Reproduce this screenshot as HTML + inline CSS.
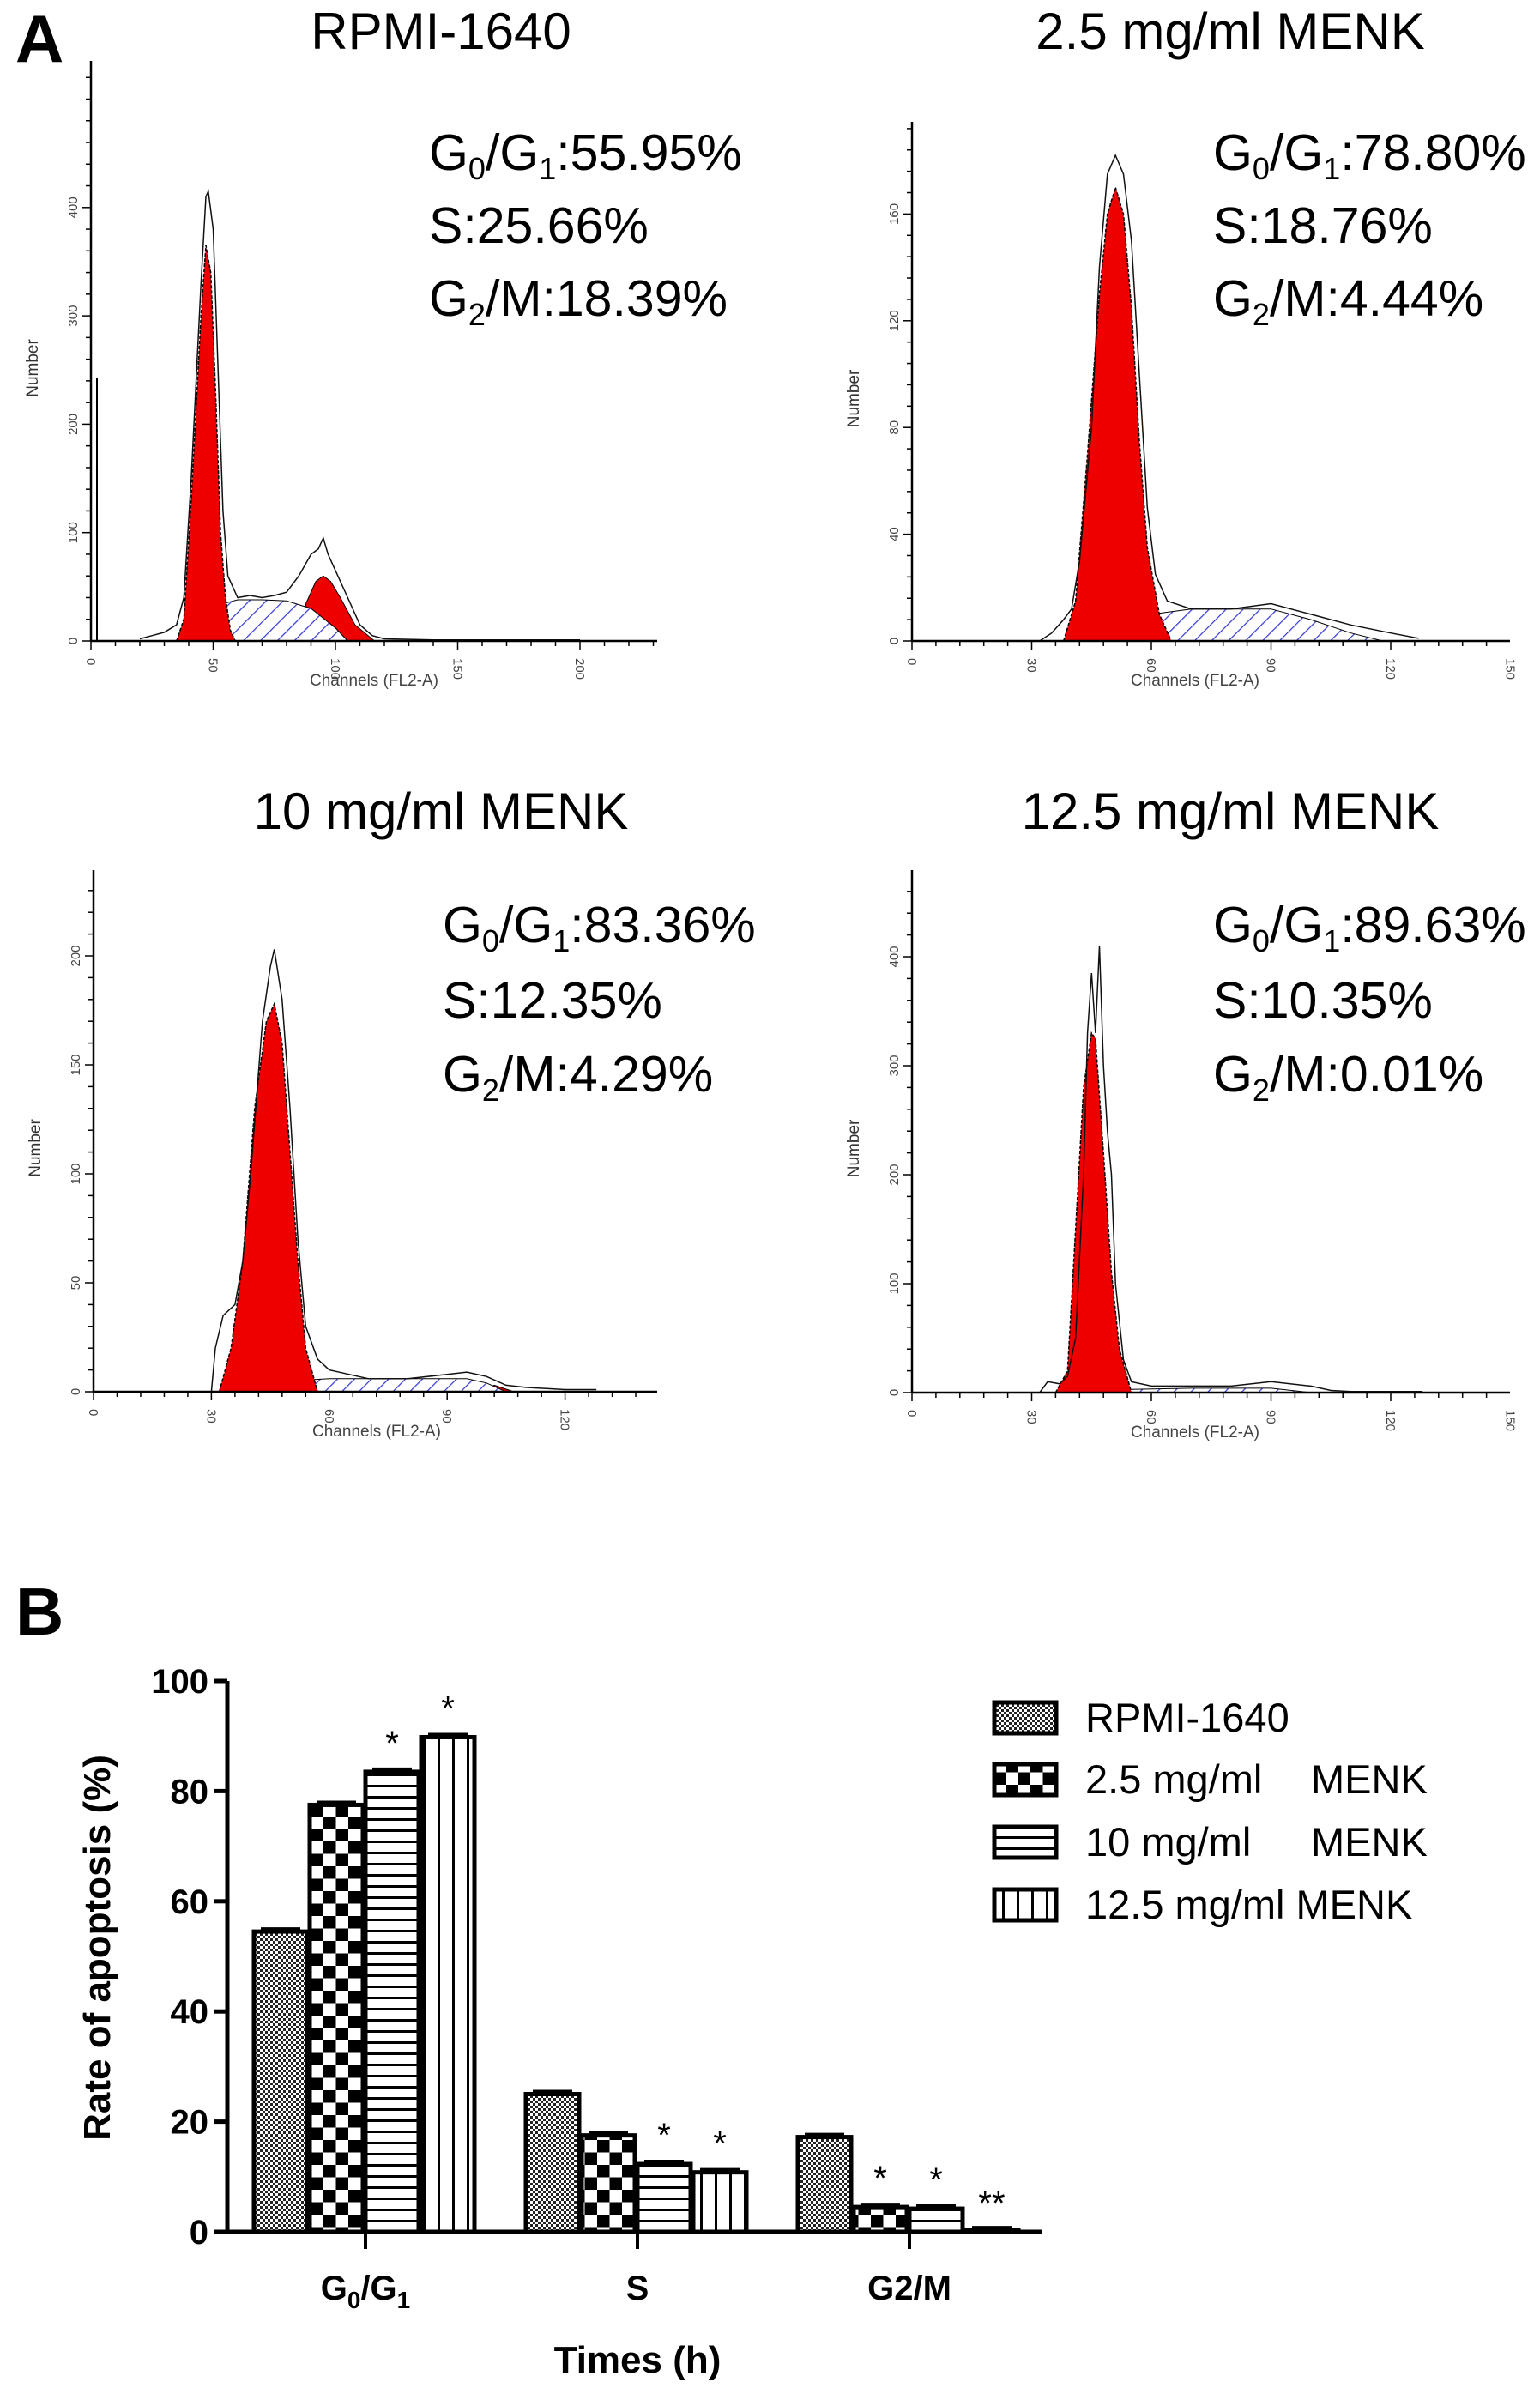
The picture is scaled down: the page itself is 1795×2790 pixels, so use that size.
<!DOCTYPE html>
<html><head><meta charset="utf-8"><style>
html,body{margin:0;padding:0;background:#fff}
svg{display:block}
text{font-family:"Liberation Sans",sans-serif}
</style></head><body>
<svg id="fig" width="1795" height="2790" viewBox="0 0 1795 2790" xmlns="http://www.w3.org/2000/svg">
<defs>
<pattern id="hatchS" patternUnits="userSpaceOnUse" width="14" height="14" patternTransform="rotate(45)"><rect width="14" height="14" fill="#fff"/><line x1="0" y1="0" x2="0" y2="14" stroke="#3a3ad8" stroke-width="2.5"/></pattern>
<pattern id="pFine" patternUnits="userSpaceOnUse" width="6" height="6"><rect width="6" height="6" fill="#fff"/><rect width="3" height="3" fill="#222"/><rect x="3" y="3" width="3" height="3" fill="#222"/></pattern>
<pattern id="pChk" patternUnits="userSpaceOnUse" width="29" height="29" x="0" y="0"><rect width="29" height="29" fill="#fff"/><rect width="14.5" height="14.5" fill="#000"/><rect x="14.5" y="14.5" width="14.5" height="14.5" fill="#000"/></pattern>
<pattern id="pHor" patternUnits="userSpaceOnUse" width="10" height="13"><rect width="10" height="13" fill="#fff"/><rect y="0" width="10" height="3" fill="#000"/></pattern>
<pattern id="pVer" patternUnits="userSpaceOnUse" width="17" height="10"><rect width="17" height="10" fill="#fff"/><rect x="0" width="3" height="10" fill="#000"/></pattern>
</defs>

<text x="18" y="72" font-size="78" font-weight="bold">A</text>
<text x="18" y="1905" font-size="78" font-weight="bold">B</text>

<text x="514" y="57" font-size="60" text-anchor="middle">RPMI-1640</text>
<text x="1434" y="57" font-size="60" text-anchor="middle">2.5 mg/ml MENK</text>
<text x="514" y="966" font-size="60" text-anchor="middle">10 mg/ml MENK</text>
<text x="1434" y="966" font-size="60" text-anchor="middle">12.5 mg/ml MENK</text>

<g font-size="59">
<text x="500" y="198">G<tspan font-size="36" dy="11">0</tspan><tspan dy="-11">/G</tspan><tspan font-size="36" dy="11">1</tspan><tspan dy="-11">:55.95%</tspan></text>
<text x="500" y="283">S:25.66%</text>
<text x="500" y="368">G<tspan font-size="36" dy="11">2</tspan><tspan dy="-11">/M:18.39%</tspan></text>
</g>
<g font-size="59">
<text x="1414" y="198">G<tspan font-size="36" dy="11">0</tspan><tspan dy="-11">/G</tspan><tspan font-size="36" dy="11">1</tspan><tspan dy="-11">:78.80%</tspan></text>
<text x="1414" y="283">S:18.76%</text>
<text x="1414" y="368">G<tspan font-size="36" dy="11">2</tspan><tspan dy="-11">/M:4.44%</tspan></text>
</g>
<g font-size="59">
<text x="516" y="1098">G<tspan font-size="36" dy="11">0</tspan><tspan dy="-11">/G</tspan><tspan font-size="36" dy="11">1</tspan><tspan dy="-11">:83.36%</tspan></text>
<text x="516" y="1186">S:12.35%</text>
<text x="516" y="1272">G<tspan font-size="36" dy="11">2</tspan><tspan dy="-11">/M:4.29%</tspan></text>
</g>
<g font-size="59">
<text x="1414" y="1098">G<tspan font-size="36" dy="11">0</tspan><tspan dy="-11">/G</tspan><tspan font-size="36" dy="11">1</tspan><tspan dy="-11">:89.63%</tspan></text>
<text x="1414" y="1186">S:10.35%</text>
<text x="1414" y="1272">G<tspan font-size="36" dy="11">2</tspan><tspan dy="-11">/M:0.01%</tspan></text>
</g>

<g id="hist"></g>
<g id="bars"></g>

<text transform="translate(128,2270) rotate(-90)" font-size="44" font-weight="bold" text-anchor="middle">Rate of apoptosis (%)</text>
<text x="426" y="2680" font-size="40" font-weight="bold" text-anchor="middle">G<tspan font-size="28" dy="10">0</tspan><tspan dy="-10">/G</tspan><tspan font-size="28" dy="10">1</tspan></text>
<text x="743" y="2680" font-size="40" font-weight="bold" text-anchor="middle">S</text>
<text x="1060" y="2680" font-size="40" font-weight="bold" text-anchor="middle">G2/M</text>
<text x="743" y="2765" font-size="44" font-weight="bold" text-anchor="middle">Times (h)</text>

<g font-size="47">
<rect x="1147" y="1963" width="72" height="36" fill="url(#pFine)" stroke="#000" stroke-width="5" transform="translate(12,21)"/>
<text x="1265" y="2018">RPMI-1640</text>
<rect x="1147" y="2035" width="72" height="36" fill="url(#pChk)" stroke="#000" stroke-width="5" transform="translate(12,21)"/>
<text x="1265" y="2090">2.5 mg/ml</text><text x="1528" y="2090">MENK</text>
<rect x="1147" y="2108" width="72" height="36" fill="url(#pHor)" stroke="#000" stroke-width="5" transform="translate(12,21)"/>
<text x="1265" y="2163">10 mg/ml</text><text x="1528" y="2163">MENK</text>
<rect x="1147" y="2181" width="72" height="36" fill="url(#pVer)" stroke="#000" stroke-width="5" transform="translate(12,21)"/>
<text x="1265" y="2236">12.5 mg/ml MENK</text>
</g>
</svg>
<script>
const p1Outline=[[20,2],[25,5],[30,8],[35,15],[38,40],[41,150],[45,330],[47,410],[48,415],[50,380],[52,250],[54,120],[56,60],[58,50],[60,40],[65,42],[70,40],[75,42],[80,45],[85,60],[90,80],[93,85],[95,95],[97,80],[100,65],[105,40],[110,15],[115,5],[120,2],[140,1],[200,1]];
const p1G1=[[35,0],[38,20],[41,130],[45,300],[47,365],[49,340],[51,230],[53,100],[55,40],[57,10],[59,0]];
const p1S=[[45,0],[50,20],[55,35],[60,38],[70,38],[80,37],[90,30],[100,12],[105,0]];
const p1G2=[[85,0],[88,35],[92,55],[95,60],[98,55],[102,40],[108,15],[116,0]];

const p2Outline=[[32,0],[35,3],[38,8],[40,12],[42,30],[45,80],[47,140],[49,175],[51,182],[53,175],[55,150],[57,100],[59,50],[61,25],[64,15],[70,12],[80,12],[90,14],[100,10],[110,6],[120,3],[127,1]];
const p2G1=[[38,0],[41,15],[44,70],[47,130],[49,160],[51,170],[53,160],[55,125],[57,75],[59,35],[62,10],[65,0]];
const p2S=[[44,0],[50,4],[60,10],[70,12],[90,12],[100,8],[110,3],[118,0]];
const p2G2=[[105,0],[110,2],[115,0]];

const p3Outline=[[30,0],[31,20],[33,35],[36,40],[38,60],[40,100],[43,170],[45,195],[46,203],[48,180],[50,130],[52,70],[54,30],[57,15],[60,10],[70,6],[80,6],[90,8],[95,9],[100,7],[105,3],[110,2],[120,1],[128,1]];
const p3G1=[[32,0],[35,20],[38,60],[41,130],[44,170],[46,178],[48,160],[50,110],[52,60],[54,20],[57,0]];
const p3S=[[40,0],[50,5],[60,6],[80,6],[95,6],[100,4],[105,0]];
const p3G2=[[98,0],[102,3],[107,0]];

const p4Outline=[[32,0],[34,10],[37,8],[39,15],[41,50],[43,200],[44,330],[45,385],[46,330],[47,410],[48,300],[49,240],[50,200],[51,100],[53,30],[55,10],[60,6],[70,6],[80,6],[90,10],[100,6],[105,2],[110,1],[128,1]];
const p4G1=[[36,0],[39,20],[41,150],[43,280],[45,330],[46,325],[48,220],[50,110],[52,40],[55,0]];
const p4S=[[45,0],[55,3],[70,4],[90,4],[100,0]];
const p4G2=[];

const p1XTicks=[0,50,100,150,200], p1YTicks=[0,100,200,300,400];
const p2XTicks=[0,30,60,90,120,150], p2YTicks=[0,40,80,120,160];
const p3XTicks=[0,30,60,90,120], p3YTicks=[0,50,100,150,200];
const p4XTicks=[0,30,60,90,120,150], p4YTicks=[0,100,200,300,400];

const phases=["G0/G1","S","G2/M"];
const seriesNames=["RPMI-1640","2.5 mg/ml MENK","10 mg/ml MENK","12.5 mg/ml MENK"];
const rpmiVals=[54.5,25.0,17.2];
const menk25Vals=[77.5,17.5,4.5];
const menk10Vals=[83.5,12.3,4.2];
const menk125Vals=[89.8,10.8,0.3];
const sigMarks=[["","","*","*"],["","","*","*"],["","*","*","**"]];
const bYTicks=[0,20,40,60,80,100];

const NS="http://www.w3.org/2000/svg";
function mk(tag,attrs,parent){const e=document.createElementNS(NS,tag);for(const k in attrs)e.setAttribute(k,attrs[k]);parent.appendChild(e);return e;}

const hist=document.getElementById('hist');
const panels=[
 {id:"rpmi",ox:106,oy:747,sx:2.85,sy:1.263,xEnd:766,yTop:71,xt:p1XTicks,yt:p1YTicks,xMinor:10,yMinor:20,o:p1Outline,g1:p1G1,s:p1S,g2:p1G2,dbl:true},
 {id:"2-5-menk",ox:1063,oy:747,sx:4.65,sy:3.11,xEnd:1760,yTop:142,xt:p2XTicks,yt:p2YTicks,xMinor:6,yMinor:8,o:p2Outline,g1:p2G1,s:p2S,g2:p2G2},
 {id:"10-menk",ox:109,oy:1622,sx:4.58,sy:2.54,xEnd:766,yTop:1014,xt:p3XTicks,yt:p3YTicks,xMinor:6,yMinor:10,o:p3Outline,g1:p3G1,s:p3S,g2:p3G2},
 {id:"12-5-menk",ox:1063,oy:1623,sx:4.65,sy:1.27,xEnd:1760,yTop:1014,xt:p4XTicks,yt:p4YTicks,xMinor:6,yMinor:20,o:p4Outline,g1:p4G1,s:p4S,g2:p4G2}
];
panels.forEach(p=>{
 const g=mk('g',{},hist);
 
 
 const X=c=>p.ox+c*p.sx, Y=v=>p.oy-v*p.sy;
 const poly=arr=>arr.map((d,i)=>(i?'L':'M')+X(d[0]).toFixed(1)+','+Y(d[1]).toFixed(1)).join(' ');
 if(p.g2.length){const e=mk('path',{d:poly(p.g2)+' Z',fill:'#ee0000',stroke:'#000','stroke-width':1},g);
  
  }
 const sE=mk('path',{d:poly(p.s)+' Z',fill:'url(#hatchS)',stroke:'#000','stroke-width':1},g);
 
 
 const g1E=mk('path',{d:poly(p.g1)+' Z',fill:'#ee0000',stroke:'#000','stroke-width':1.5,'stroke-dasharray':'4 2'},g);
 
 
 const oE=mk('path',{d:poly(p.o),fill:'none',stroke:'#111','stroke-width':1.5},g);
 
 
 mk('line',{x1:p.ox,y1:p.oy,x2:p.xEnd,y2:p.oy,stroke:'#000','stroke-width':2.5},g);
 mk('line',{x1:p.ox,y1:p.oy,x2:p.ox,y2:p.yTop,stroke:'#000','stroke-width':2.5},g);
 if(p.dbl){mk('line',{x1:p.ox+7,y1:p.oy,x2:p.ox+7,y2:p.yTop+370,stroke:'#000','stroke-width':2},g);}
 const xmax=(p.xEnd-p.ox)/p.sx;
 for(let c=0;c<=xmax+0.01;c+=p.xMinor){const major=p.xt.includes(c);
  mk('line',{x1:X(c),y1:p.oy,x2:X(c),y2:p.oy+(major?10:6),stroke:'#000','stroke-width':1.5},g);}
 const ymax=(p.oy-p.yTop)/p.sy;
 for(let v=0;v<=ymax;v+=p.yMinor){const major=p.yt.includes(v);
  mk('line',{x1:p.ox,y1:Y(v),x2:p.ox-(major?10:6),y2:Y(v),stroke:'#000','stroke-width':1.5},g);}
 p.xt.forEach(t=>{const e=mk('text',{transform:`translate(${X(t)-5},${p.oy+20}) rotate(90)`,'font-size':15,fill:'#444'},g);e.textContent=t;
  
  });
 p.yt.forEach(t=>{const e=mk('text',{transform:`translate(${p.ox-16},${Y(t)}) rotate(-90)`,'font-size':15,fill:'#444','text-anchor':'middle'},g);e.textContent=t;
  
  });
 const xt=mk('text',{x:p.ox+330,y:p.oy+52,'font-size':19,'text-anchor':'middle',fill:'#444'},g);xt.textContent='Channels (FL2-A)';
 
 
 const yt=mk('text',{transform:`translate(${p.ox-62},${(p.oy+p.yTop)/2+20}) rotate(-90)`,'font-size':19,'text-anchor':'middle',fill:'#333'},g);yt.textContent='Number';
 
 
});

const bars=document.getElementById('bars');
const bx0=265, by0=2601, by100=1959, bxEnd=1214;
const BY=v=>by0-(by0-by100)*v/100;
const groupCenters=[426,743,1060];
const barW=62, barStep=65;
const allSeries=[rpmiVals,menk25Vals,menk10Vals,menk125Vals];
const fills=['url(#pFine)','url(#pChk)','url(#pHor)','url(#pVer)'];
const ax=mk('g',{},bars);


mk('line',{x1:bx0,y1:by0,x2:bx0,y2:by100,stroke:'#000','stroke-width':5},ax);
mk('line',{x1:bx0-2,y1:by0,x2:bxEnd,y2:by0,stroke:'#000','stroke-width':5},ax);
bYTicks.forEach(t=>{mk('line',{x1:bx0-16,y1:BY(t),x2:bx0,y2:BY(t),stroke:'#000','stroke-width':5},ax);
 const e=mk('text',{x:bx0-22,y:BY(t)+14,'font-size':40,'font-weight':'bold','text-anchor':'end'},ax);e.textContent=t;
 
 });
groupCenters.forEach(c=>mk('line',{x1:c,y1:by0,x2:c,y2:by0+20,stroke:'#000','stroke-width':4},ax));
phases.forEach((ph,gi)=>{
 allSeries.forEach((vals,si)=>{
  const v=vals[gi];
  const x=groupCenters[gi]-2*barStep+si*barStep;
  const y=BY(v);
  const r=mk('rect',{x:x,y:y,width:barW,height:Math.max(by0-y,0.5),fill:fills[si],stroke:'#000','stroke-width':5},bars);
  
  
  mk('line',{x1:x+8,y1:y-3,x2:x+barW-8,y2:y-3,stroke:'#000','stroke-width':4},bars);
  const s=sigMarks[gi][si];
  if(s){const t=mk('text',{x:x+barW/2,y:y-(v<2?18:20),'font-size':40,'text-anchor':'middle'},bars);t.textContent=s;
   
   }
 });
});
</script>
</body></html>
